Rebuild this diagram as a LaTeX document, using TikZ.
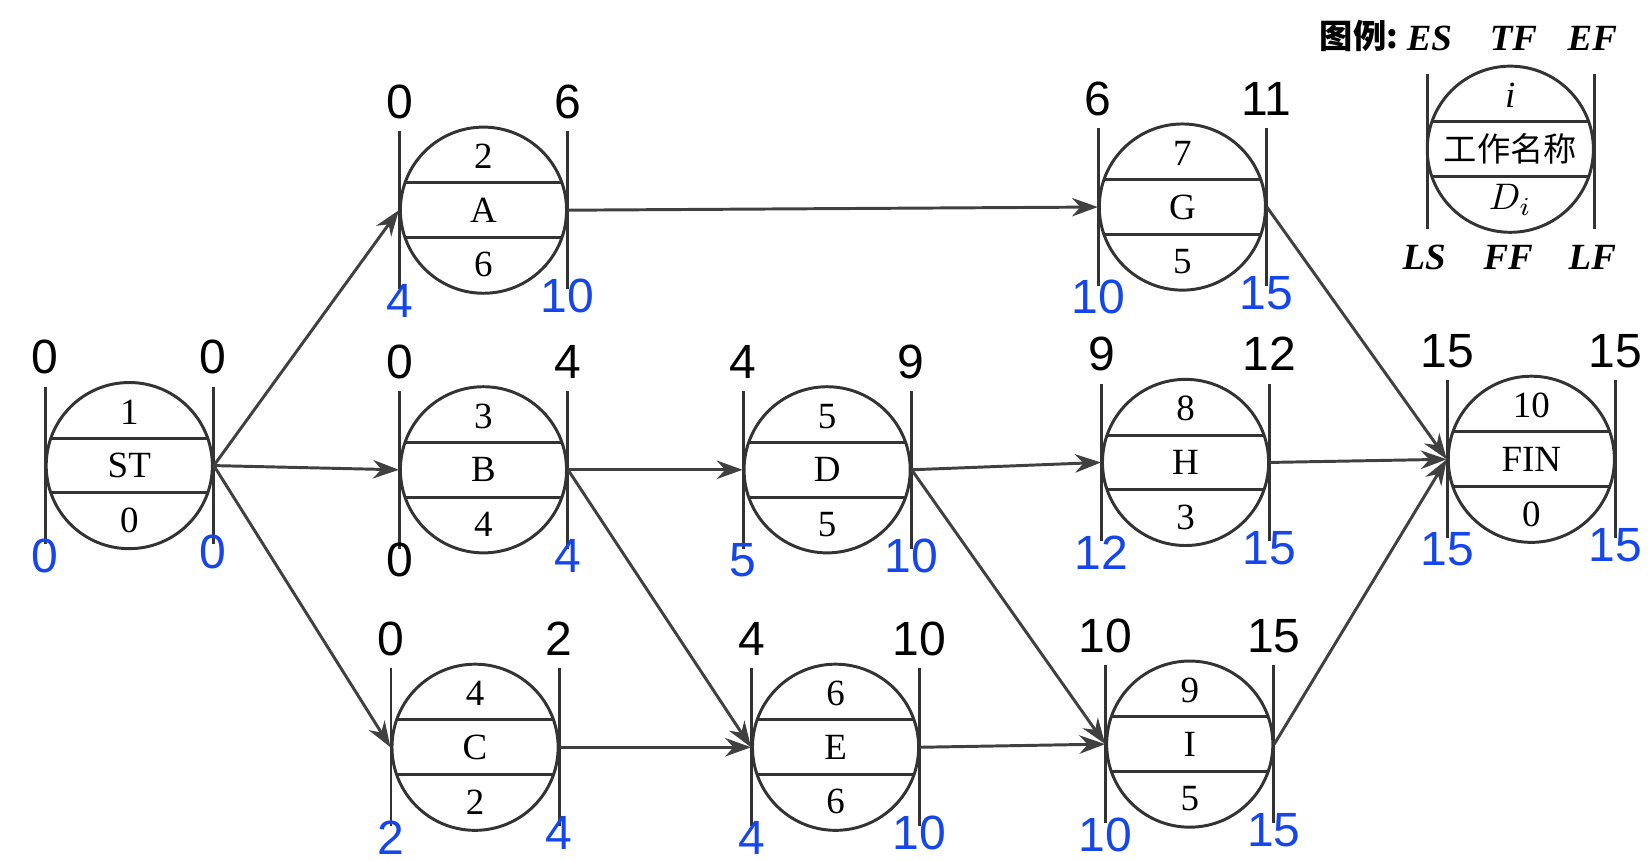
\documentclass[tikz,border=0pt]{standalone}
\usepackage{fontspec}
\setmainfont{Liberation Serif}
\setsansfont{Liberation Sans}
\newfontfamily\cjk{Noto Sans CJK SC}
\usetikzlibrary{arrows.meta, calc}
\definecolor{lblblue}{RGB}{20,70,235}
\tikzset{
  actcircle/.style={circle, draw=black!80, thick, minimum size=1.58cm, inner sep=0pt},
  bar/.style={draw=black!80, thick},
  arrow/.style={thick, draw=black!75, -{Stealth[length=7pt,width=5pt]}},
  small/.style={font=\fontsize{10}{10}\selectfont},
  time/.style={font=\sffamily\fontsize{13}{13}\selectfont},
  late/.style={time, text=lblblue}
}
% one activity: name, centre, number, title, duration, ES, EF, LS, LF
\newcommand\actnode[9]{
  \node[actcircle] (#1) at (#2) {};
  \draw[bar] ($(#1.center)+(-80,-75)$) -- ($(#1.center)+(-80,75)$);
  \draw[bar] ($(#1.center)+(80,-75)$) -- ($(#1.center)+(80,75)$);
  \draw[bar] ($(#1.center)+(-75,-26)$) -- ($(#1.center)+(75,-26)$);
  \draw[bar] ($(#1.center)+(-75,26)$) -- ($(#1.center)+(75,26)$);
  \node[small] (#1-id) at ($(#1.center)+(0,-51)$) {#3};
  \node[small] (#1-nm) at (#1.center) {#4};
  \node[small] (#1-d) at ($(#1.center)+(0,52)$) {#5};
  \node[time] (#1-es) at ($(#1.center)+(-80,-103)$) {#6};
  \node[time] (#1-ef) at ($(#1.center)+(80,-103)$) {#7};
  \node[late] (#1-ls) at ($(#1.center)+(-80,86)$) {#8};
  \node[late] (#1-lf) at ($(#1.center)+(80,82)$) {#9};
}

\begin{document}
\begin{tikzpicture}[x=0.01cm, y=-0.01cm]
    \useasboundingbox (0,0) rectangle (1568,819);

    % activities
    \actnode{ST}{123,443}{1}{ST}{0}{0}{0}{0}{0}
    \actnode{A}{460,200}{2}{A}{6}{0}{6}{4}{10}
    \actnode{B}{460,447}{3}{B}{4}{0}{4}{\color{black}0}{4}
    \actnode{C}{452,711}{4}{C}{2}{0}{2}{2}{4}
    \actnode{D}{787,447}{5}{D}{5}{4}{9}{5}{10}
    \actnode{E}{795,711}{6}{E}{6}{4}{10}{4}{10}
    \actnode{G}{1125,197}{7}{G}{5}{6}{11}{10}{15}
    \actnode{H}{1128,440}{8}{H}{3}{9}{12}{12}{15}
    \actnode{I}{1132,708}{9}{I}{5}{10}{15}{10}{15}
    \actnode{FIN}{1457,437}{10}{FIN}{0}{15}{15}{15}{15}

    % links
    \draw[arrow] (ST.east) -- (A.west);
    \draw[arrow] (ST.east) -- (B.west);
    \draw[arrow] (ST.east) -- (C.west);
    \draw[arrow] (A.east) -- (G.west);
    \draw[arrow] (B.east) -- (D.west);
    \draw[arrow] (B.east) -- (E.west);
    \draw[arrow] (C.east) -- (E.west);
    \draw[arrow] (D.east) -- (H.west);
    \draw[arrow] (D.east) -- (I.west);
    \draw[arrow] (E.east) -- (I.west);
    \draw[arrow] (G.east) -- (FIN.west);
    \draw[arrow] (H.east) -- (FIN.west);
    \draw[arrow] (I.east) -- (FIN.west);

    % legend
    \node[actcircle] (key) at (1437,142) {};
    \draw[bar] (1358,70) -- (1358,218);
    \draw[bar] (1517,70) -- (1517,218);
    \draw[bar] (1362,116) -- (1512,116);
    \draw[bar] (1362,168) -- (1512,168);
    \node[small] (key-id) at (1437,91) {\itshape i};
    \node[font=\cjk\fontsize{9}{9}\selectfont] (key-nm) at (1437,142) {工作名称};
    \node[small] (key-d) at (1437,190) {$D_i$};
    \node[font=\cjk\bfseries\fontsize{9}{9}\selectfont] (key-t) at (1293,34) {图例:};
    \node[small] (key-es) at (1360,37) {\itshape\bfseries ES};
    \node[small] (key-tf) at (1440,37) {\itshape\bfseries TF};
    \node[small] (key-ef) at (1515,37) {\itshape\bfseries EF};
    \node[small] (key-ls) at (1355,245) {\itshape\bfseries LS};
    \node[small] (key-ff) at (1435,245) {\itshape\bfseries FF};
    \node[small] (key-lf) at (1515,245) {\itshape\bfseries LF};
\end{tikzpicture}
\end{document}
